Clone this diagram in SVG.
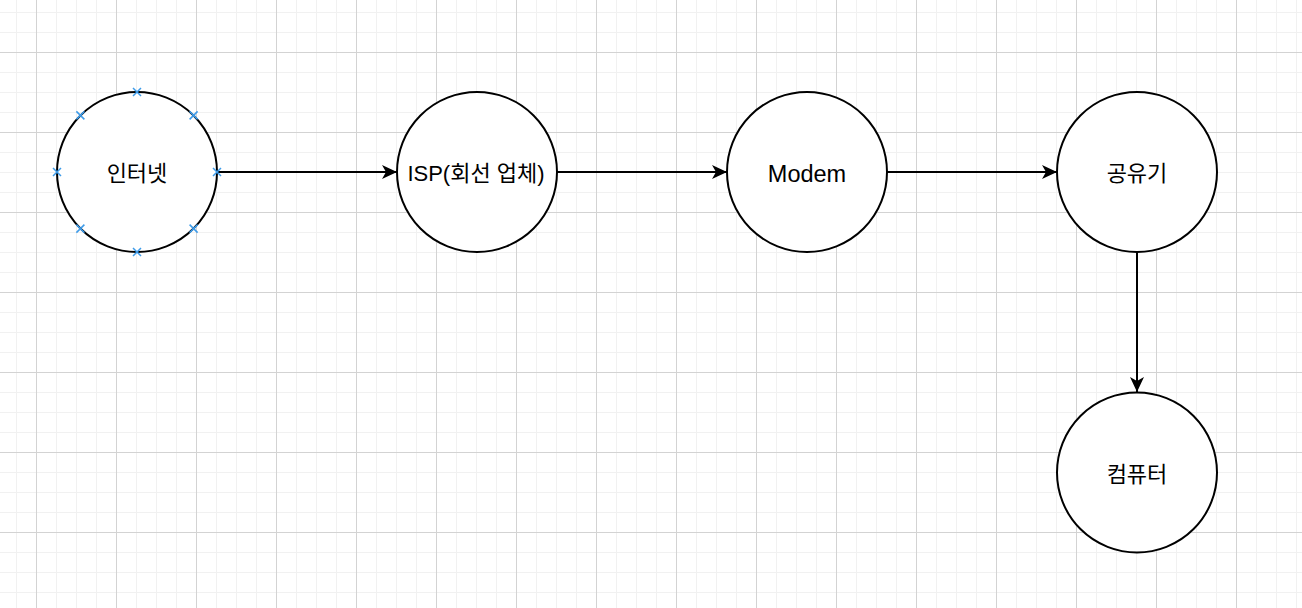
<svg xmlns="http://www.w3.org/2000/svg" width="1302" height="608" viewBox="0 0 1302 608">
  <defs>
    <pattern id="grid" patternUnits="userSpaceOnUse" x="36" y="52" width="80" height="80">
      <path d="M20.5,0V80M40.5,0V80M60.5,0V80M0,20.5H80M0,40.5H80M0,60.5H80" stroke="#f1f1f1" stroke-width="1" fill="none"/>
      <path d="M0.5,0V80M0,0.5H80" stroke="#d3d3d3" stroke-width="1" fill="none"/>
    </pattern>
    <marker id="arrow" markerUnits="userSpaceOnUse" markerWidth="16" markerHeight="16" refX="15" refY="8" orient="auto">
      <path d="M15,8 L0,1 L4,8 L0,15 Z" fill="#000"/>
    </marker>
  </defs>
  <style>
    .node { fill: #ffffff; stroke: #000000; stroke-width: 2; }
    .lbl { font-family: "Liberation Sans", "Noto Sans CJK KR", sans-serif; fill: #000; text-anchor: middle; }
    .ko { font-family: "Noto Sans CJK KR", "Liberation Sans", sans-serif; font-size: 22px; }
    .edge { stroke: #000; stroke-width: 2; fill: none; marker-end: url(#arrow); }
    .pt { stroke: #3d9be9; stroke-width: 1.5; fill: none; }
  </style>
  <rect x="0" y="0" width="1302" height="608" fill="#ffffff"/>
  <rect x="0" y="0" width="1302" height="608" fill="url(#grid)"/>

  <g id="connectors">
    <path class="edge" d="M217,172 H397"/>
    <path class="edge" d="M557,172 H727"/>
    <path class="edge" d="M887,172 H1057"/>
    <path class="edge" d="M1137,252 V392"/>
  </g>

  <g id="node-internet">
    <circle class="node" cx="137" cy="172" r="80"/>
    <text class="lbl ko" x="137" y="181">인터넷</text>
    <g class="pt">
      <path d="M133,88 L141,96 M141,88 L133,96"/>
      <path d="M133,248 L141,256 M141,248 L133,256"/>
      <path d="M53,168 L61,176 M61,168 L53,176"/>
      <path d="M213,168 L221,176 M221,168 L213,176"/>
      <path d="M76.4,111.4 L84.4,119.4 M84.4,111.4 L76.4,119.4"/>
      <path d="M189.6,111.4 L197.6,119.4 M197.6,111.4 L189.6,119.4"/>
      <path d="M76.4,224.6 L84.4,232.6 M84.4,224.6 L76.4,232.6"/>
      <path d="M189.6,224.6 L197.6,232.6 M197.6,224.6 L189.6,232.6"/>
    </g>
  </g>

  <g id="node-isp">
    <circle class="node" cx="477" cy="172" r="80"/>
    <text class="lbl" x="476" y="181" font-size="22">ISP(회선 업체)</text>
  </g>

  <g id="node-modem">
    <circle class="node" cx="807" cy="172" r="80"/>
    <text class="lbl" x="807" y="181.5" font-size="23.5">Modem</text>
  </g>

  <g id="node-router">
    <circle class="node" cx="1137" cy="172" r="80"/>
    <text class="lbl ko" x="1137" y="181">공유기</text>
  </g>

  <g id="node-computer">
    <circle class="node" cx="1137" cy="472.5" r="80"/>
    <text class="lbl ko" x="1137" y="481.5">컴퓨터</text>
  </g>
</svg>
